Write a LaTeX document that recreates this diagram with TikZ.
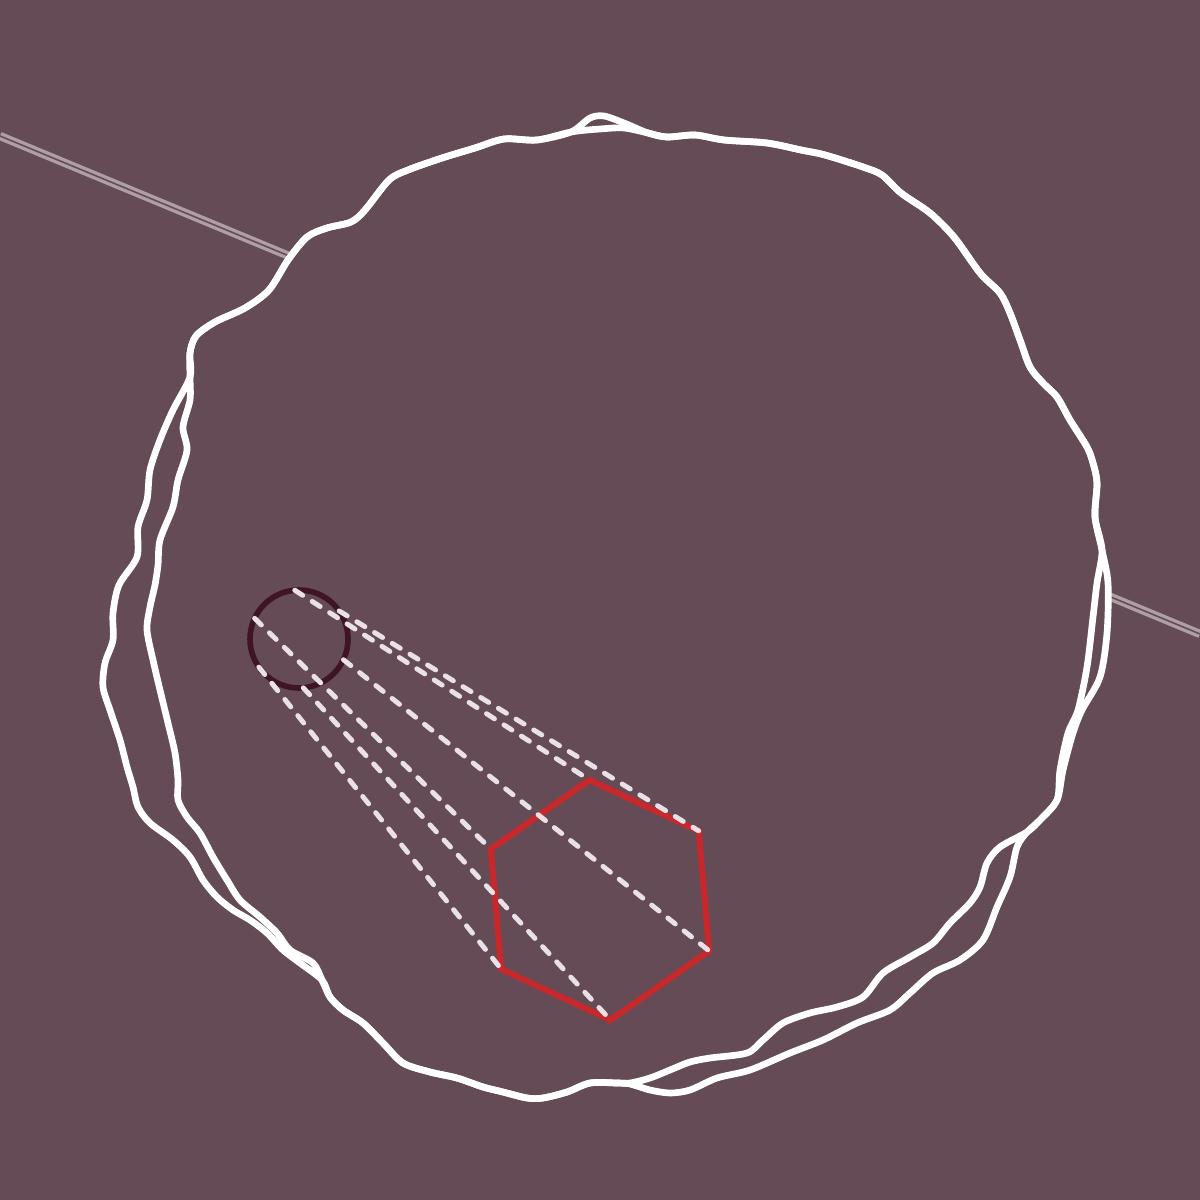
\documentclass[tikz,border=0pt]{standalone}
\usepackage{tikz}

\definecolor{plum}{HTML}{644B55}
\definecolor{wine}{HTML}{3F1525}
\definecolor{brick}{HTML}{C6282B}
\definecolor{ash}{HTML}{E9E1E5}
\definecolor{mist}{HTML}{AE9FA7}

\begin{document}
\begin{tikzpicture}[x=0.1mm, y=-0.1mm,
        blob/.style = {white, line width=1.9pt, line join=round},
        ray/.style = {ash, line width=1.4pt, line cap=round, dash pattern=on 2.7pt off 3.2pt}]
        \fill[plum] (0,0) rectangle (1200,1200);
        \useasboundingbox (0,0) rectangle (1200,1200);

        % the rail behind the blob
        \draw[mist, line width=0.95pt, double=plum, double distance=0.45pt] (0,136) -- (1200,634);

        % outer blob
        \draw[blob, fill=plum] plot[smooth cycle] coordinates {
            (190,377) (190,353) (196,336) (215,322) (245,308) (269,290) (288,260) (307,237)
            (327,228) (351,222) (365,210) (389,180) (408,170) (442,158) (475,148) (504,139)
            (537,140) (571,132) (590,118) (604,116) (624,123) (648,133) (667,137) (695,135)
            (724,140) (767,143) (801,150) (825,155) (863,167) (882,175) (901,193) (930,213)
            (954,237) (980,273) (1000,293) (1010,313) (1020,340) (1030,367) (1043,383) (1057,397)
            (1070,420) (1087,447) (1093,463) (1097,483) (1095,517) (1102,550) (1108,583) (1107,633)
            (1100,677) (1082,710) (1073,733) (1063,770) (1057,800) (1040,820) (1027,832) (1017,847)
            (1010,877) (997,907) (983,940) (960,960) (933,973) (910,993) (890,1010) (857,1023)
            (823,1040) (790,1053) (750,1070) (717,1078) (690,1090) (670,1093) (650,1090) (630,1084)
            (617,1083) (590,1083) (567,1092) (543,1098) (527,1098) (503,1092) (483,1087) (457,1078)
            (430,1072) (403,1063) (383,1043) (363,1023) (343,1010) (330,997) (322,980) (300,963)
            (283,950) (267,933) (250,920) (233,910) (217,897) (203,880) (190,857) (173,840)
            (150,823) (138,807) (133,787) (127,767) (120,740) (110,710) (103,687) (105,663)
            (113,640) (113,613) (119,585) (137,557) (138,527) (147,500) (150,470) (160,440)
            (173,410)};

        % inner blob
        \draw[blob] plot[smooth cycle] coordinates {
            (190,377) (190,353) (196,336) (215,322) (245,308) (269,290) (288,260) (307,237)
            (327,228) (351,222) (365,210) (389,180) (408,170) (442,158) (475,148) (504,139)
            (537,140) (571,132) (600,129) (624,128) (648,133) (667,137) (695,135)
            (724,140) (767,143) (801,150) (825,155) (863,167) (882,175) (901,193) (930,213)
            (954,237) (980,273) (1000,293) (1010,313) (1020,340) (1030,367) (1043,383) (1057,397)
            (1070,420) (1087,447) (1093,463) (1097,483) (1095,517) (1102,550) (1097,583) (1093,617)
            (1087,667) (1078,710) (1068,733) (1060,770) (1057,800) (1040,820) (1027,832) (1000,847)
            (987,863) (980,887) (970,903) (950,923) (933,943) (910,957) (883,973) (863,997)
            (837,1007) (810,1013) (783,1023) (763,1040) (747,1053) (710,1058) (690,1062) (670,1070)
            (650,1078) (630,1083) (617,1083) (590,1083) (567,1092) (543,1098) (527,1098) (503,1092)
            (483,1087) (457,1078) (430,1072) (403,1063) (383,1043) (363,1023) (343,1010) (330,997)
            (322,980) (313,963) (290,950) (277,933) (260,917) (240,900) (227,880) (213,857)
            (200,833) (187,817) (178,800) (178,780) (175,753) (168,723) (160,690) (153,660)
            (147,630) (150,607) (155,585) (158,565) (160,540) (173,507) (178,480) (187,450)
            (183,427) (190,400)};

        % corners of the hexagon and matching points on the ring
        \foreach \k in {0,...,5} {
            \path (600,900) ++(-95+60*\k:120.5) coordinate (hex\k);
            \path (299,639) ++(-95+60*\k:49) coordinate (dot\k);
        }

        \draw[wine, line width=1.6pt] (299,639) circle (4.9mm);
        \draw[brick, line width=1.75pt] (hex0) \foreach \k in {1,...,5} {-- (hex\k)} -- cycle;

        \foreach \k in {0,...,5}
            \draw[ray] (dot\k) -- (hex\k);
\end{tikzpicture}
\end{document}
